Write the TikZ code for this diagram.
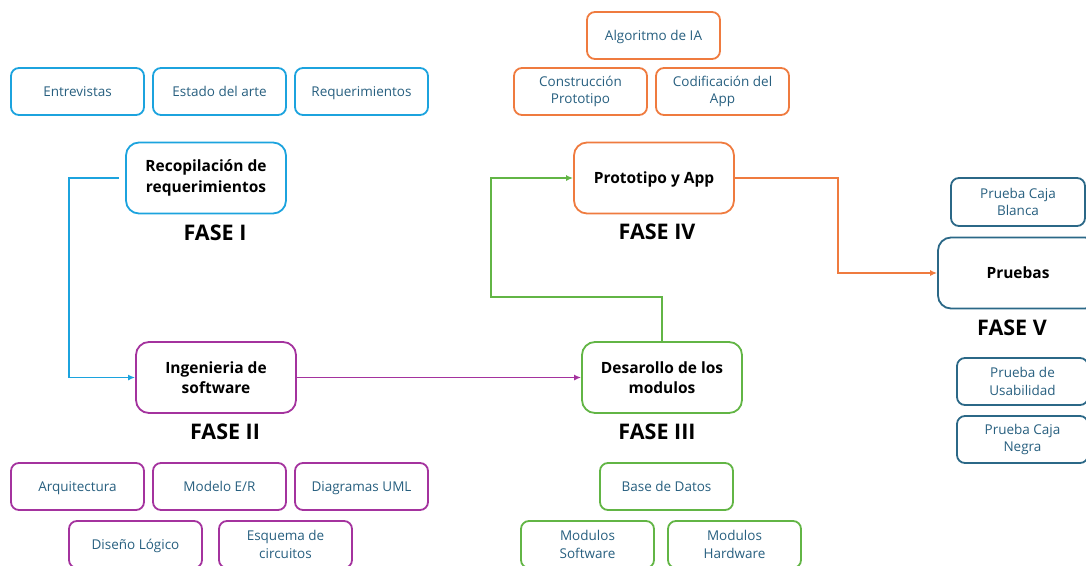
\documentclass[tikz,border=0pt]{standalone}
\usepackage{fontspec}
\setmainfont{Open Sans}
\usetikzlibrary{arrows.meta}
\definecolor{cblue}{HTML}{1CA3DE}
\definecolor{cpurple}{HTML}{A4339E}
\definecolor{cgreen}{HTML}{62B545}
\definecolor{corange}{HTML}{EF7B3F}
\definecolor{cteal}{HTML}{2B6887}
\definecolor{ctext}{HTML}{275F7F}
\tikzset{
  small/.style={draw, line width=1.8pt, rounded corners=8pt, minimum width=133pt, minimum height=47pt, align=center, text=ctext, font=\fontsize{13.5}{17.5}\selectfont, inner sep=0pt},
  one/.style={text height=10pt, text depth=0.5pt},
  bigone/.style={text height=11pt, text depth=0pt},
  big/.style={draw, line width=1.8pt, rounded corners=13pt, minimum width=160pt, minimum height=71pt, align=center, text=black, font=\fontsize{15.5}{20.5}\selectfont\bfseries, inner sep=0pt},
  fase/.style={font=\fontsize{21.5}{24}\selectfont\bfseries, text=black, inner sep=0pt},
  conn/.style={line width=1.6pt, -{Latex[length=7pt,width=6pt]}}
}
\begin{document}
\begin{tikzpicture}[x=1pt,y=-1pt]
\useasboundingbox (0,0) rectangle (1086,565);
\begin{scope}
\clip (0,0) rectangle (1086,565);
% FASE I
\node[small,one,draw=cblue] (entr) at (77.5,91.5) {Entrevistas};
\node[small,one,draw=cblue] (esta) at (219.5,91.5) {Estado del arte};
\node[small,one,draw=cblue] (requ) at (361.5,91.5) {Requerimientos};
\node[big,draw=cblue] (reco) at (206,178) {Recopilación de\\requerimientos};
\node[fase] (f1) at (215,233) {FASE I};
% FASE II
\node[big,draw=cpurple] (inge) at (216,377.5) {Ingenieria de\\software};
\node[fase] (f2) at (225,432) {FASE II};
\node[small,one,draw=cpurple] (arqu) at (77.5,486.5) {Arquitectura};
\node[small,one,draw=cpurple] (mode) at (219.5,486.5) {Modelo E/R};
\node[small,one,draw=cpurple] (diag) at (361.5,486.5) {Diagramas UML};
\node[small,one,draw=cpurple] (dise) at (135.5,544.5) {Diseño Lógico};
\node[small,draw=cpurple] (esqu) at (285.5,544.5) {Esquema de\\circuitos};
% FASE III
\node[big,draw=cgreen] (desa) at (662,377.5) {Desarollo de los\\modulos};
\node[fase] (f3) at (657,432) {FASE III};
\node[small,one,draw=cgreen] (base) at (666.5,486.5) {Base de Datos};
\node[small,draw=cgreen] (msof) at (587.5,544.5) {Modulos\\Software};
\node[small,draw=cgreen] (mhar) at (734.5,544.5) {Modulos\\Hardware};
% FASE IV
\node[big,bigone,draw=corange] (prot) at (654,178) {Prototipo y App};
\node[fase] (f4) at (657,232) {FASE IV};
\node[small,one,draw=corange] (algo) at (653.5,35.5) {Algoritmo de IA};
\node[small,draw=corange] (cons) at (580.5,91.5) {Construcción\\Prototipo};
\node[small,draw=corange] (codi) at (722.5,91.5) {Codificación del\\App};
% FASE V
\node[big,bigone,draw=cteal] (prue) at (1018,273) {Pruebas};
\node[fase] (f5) at (1012,328) {FASE V};
\node[small,draw=cteal,minimum width=134pt,minimum height=48pt] (pcb) at (1018,202) {Prueba Caja\\Blanca};
\node[small,draw=cteal,minimum width=131pt] (pus) at (1022.5,381.5) {Prueba de\\Usabilidad};
\node[small,draw=cteal,minimum width=131pt] (pcn) at (1022.5,439.5) {Prueba Caja\\Negra};
% connectors
\coordinate (b1) at (69,178);
\coordinate (g1) at (491,297);
\coordinate (o1) at (838,273);
\draw[conn,draw=cblue] ([xshift=-6pt]reco.west) -- (b1) |- (inge.west);
\draw[conn,draw=cpurple] (inge.east) -- (desa.west);
\draw[conn,draw=cgreen] (desa.north) |- (g1) |- (prot.west);
\draw[conn,draw=corange] (prot.east) -| (o1) -- (prue.west);
\end{scope}
\end{tikzpicture}
\end{document}
